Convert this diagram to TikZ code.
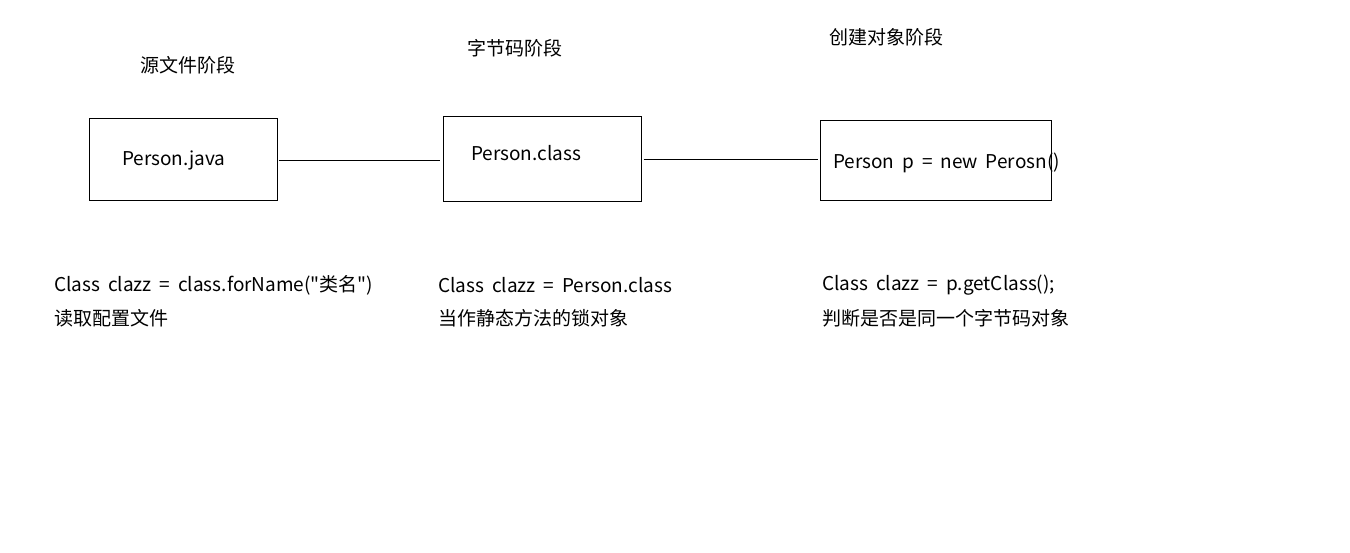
\documentclass[tikz,border=0pt]{standalone}
\usepackage{fontspec}
\newfontfamily\cjk{Noto Sans CJK SC}[WordSpace=1.85]
\tikzset{
  stagebox/.style={draw,line width=1pt,inner sep=0pt},
  txt/.style={anchor=west,inner sep=0pt,font=\cjk\fontsize{19}{22}\selectfont},
}
\begin{document}
\begin{tikzpicture}[x=1pt,y=-1pt] %---- class loading stages
\useasboundingbox (0,0) rectangle (1350,552);
% --- stage titles
\node[txt] (t1) at (140,65) {源文件阶段};
\node[txt] (t2) at (467,48) {字节码阶段};
\node[txt] (t3) at (829,37) {创建对象阶段};
% ---- boxes
\node[stagebox,minimum width=188pt,minimum height=82pt] (java) at (183,159) {};
\node[stagebox,minimum width=198pt,minimum height=85pt] (cls) at (542,158.5) {};
\node[stagebox,minimum width=231pt,minimum height=80pt] (obj) at (935.5,160) {};
\node[txt] (javatxt) at (122,160) {Person.java};
\node[txt] (clstxt) at (471,153) {Person.class};
\node[txt] (objtxt) at (833,163) {Person p = new Perosn()};
% ---- connectors
\draw[line width=1pt] (java.east) ++(1,1.5) coordinate (a1) -- ([xshift=-3pt]a1 -| cls.west);
\draw[line width=1pt] (cls.east) ++(2,0.5) coordinate (a2) -- ([xshift=-2pt]a2 -| obj.west);
% --- notes below
\node[txt] (n1) at (54,285) {Class clazz = class.forName("类名")};
\node[txt] (m1) at (54,318) {读取配置文件};
\node[txt] (n2) at (438,285) {Class clazz = Person.class};
\node[txt] (m2) at (438,318) {当作静态方法的锁对象};
\node[txt] (n3) at (822,285) {Class clazz = p.getClass();};
\node[txt] (m3) at (822,318) {判断是否是同一个字节码对象};
\end{tikzpicture}
\end{document}
